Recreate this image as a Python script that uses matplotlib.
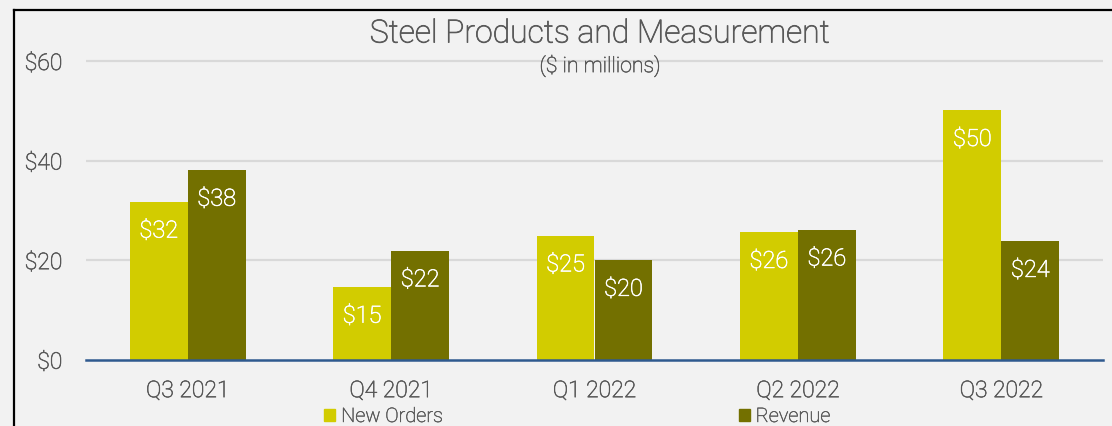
import matplotlib
matplotlib.use("Agg")
import matplotlib.pyplot as plt
import matplotlib.patheffects as pe
from matplotlib.lines import Line2D
from matplotlib.patches import Patch
import numpy as np

categories = ["Q3 2021", "Q4 2021", "Q1 2022", "Q2 2022", "Q3 2022"]
new_orders = [31.7, 14.6, 24.9, 25.6, 50.1]
revenue = [38.1, 21.9, 20.0, 26.1, 23.8]
new_orders_labels = ["$32", "$15", "$25", "$26", "$50"]
revenue_labels = ["$38", "$22", "$20", "$26", "$24"]
yticks = [0, 20, 40, 60]
ytick_labels = ["$0", "$20", "$40", "$60"]

plt.rcParams['font.family'] = ['Roboto', 'DejaVu Sans']
plt.rcParams['font.weight'] = 'light'

TXT = "#595959"
C_NO = "#d2cc00"
C_RV = "#737000"
BG = "#f2f2f2"


def thick(color, lw=0.45):
    return [pe.withStroke(linewidth=lw, foreground=color)]


W, H = 1112, 427
fig = plt.figure(figsize=(W / 100, H / 100), dpi=100, facecolor=BG)
ax = fig.add_axes([86 / W, (H - 360.7) / H, (1103 - 86) / W, (360.7 - 59.5) / H])
ax.set_facecolor(BG)

x = np.arange(len(categories))
w = 0.285
b1 = ax.bar(x - w / 2, new_orders, w, color=C_NO, zorder=3, label="New Orders")
b2 = ax.bar(x + w / 2, revenue, w, color=C_RV, zorder=3, label="Revenue")

for bars, labs in ((b1, new_orders_labels), (b2, revenue_labels)):
    for r, lab in zip(bars, labs):
        ax.annotate(lab, (r.get_x() + r.get_width() / 2, r.get_height()),
                    xytext=(0, -21), textcoords="offset points",
                    ha="center", va="center", color="white", fontsize=17,
                    zorder=4, path_effects=thick("white"))

ax.set_xlim(-0.5, len(categories) - 0.5)
ax.set_ylim(0, 60.5)
ax.set_yticks(yticks)
ax.set_yticklabels(ytick_labels)
ax.set_xticks(x)
ax.set_xticklabels(categories)
ax.tick_params(axis="y", length=0, pad=17, labelsize=16.5, labelcolor=TXT)
ax.tick_params(axis="x", length=0, pad=14, labelsize=16.5, labelcolor=TXT)
for t in ax.get_xticklabels() + ax.get_yticklabels():
    t.set_path_effects(thick(TXT))
for s in ("top", "right", "left"):
    ax.spines[s].set_visible(False)
ax.spines["bottom"].set_color("#2f5a8f")
ax.spines["bottom"].set_linewidth(1.8)
ax.spines["bottom"].set_zorder(5)
for yv in yticks[1:]:
    ax.axhline(yv, color="#d9d9d9", lw=1.6, zorder=1)

fig.text(600 / W, 1 - 35 / H, "Steel Products and Measurement", ha="center", va="center",
         fontsize=23, color=TXT, path_effects=thick(TXT, 0.55))
fig.text(600 / W, 1 - 67 / H, "($ in millions)", ha="center", va="center",
         fontsize=15.3, color=TXT, path_effects=thick(TXT, 0.4))

handles = [Patch(color=C_NO), Patch(color=C_RV)]
leg = fig.legend(handles, ["New Orders", "Revenue"], ncol=2, frameon=False,
                 loc="center", bbox_to_anchor=(577 / W, 1 - 417.5 / H),
                 fontsize=14.4, handlelength=0.55, handleheight=0.55,
                 handletextpad=0.3, columnspacing=14.8, borderpad=0)
for t in leg.get_texts():
    t.set_color(TXT)
    t.set_path_effects(thick(TXT, 0.35))

fig.add_artist(Line2D([14 / W, 14 / W], [0, 1 - 11 / H], color="black", lw=1.6,
                      transform=fig.transFigure))
fig.add_artist(Line2D([14 / W, 1], [1 - 11 / H, 1 - 11 / H], color="black", lw=1.6,
                      transform=fig.transFigure))

fig.savefig("out.png", dpi=100, facecolor=BG)
